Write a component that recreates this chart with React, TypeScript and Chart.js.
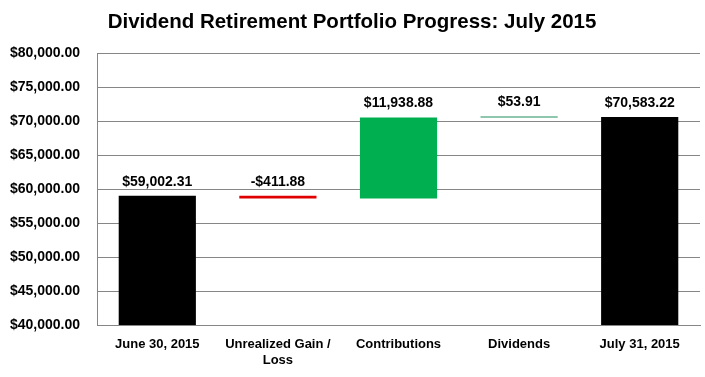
import React, { useEffect, useRef } from "react";
import { Chart, registerables } from "chart.js";

Chart.register(...registerables);

const categories: (string | string[])[] = [
  "June 30, 2015",
  ["Unrealized Gain /", "Loss"],
  "Contributions",
  "Dividends",
  "July 31, 2015",
];
const startValue = 59002.31;
const changes = [-411.88, 11938.88, 53.91];
const endValue = 70583.22;
const barColors = ["#000000", "#E00000", "#00B050", "#1E8F5E", "#000000"];
const titleText = "Dividend Retirement Portfolio Progress: July 2015";

const fmt = (v: number) => {
  const s = Math.abs(v).toLocaleString("en-US", { minimumFractionDigits: 2, maximumFractionDigits: 2 });
  return (v < 0 ? "-$" : "$") + s;
};

export default function App() {
  const ref = useRef<HTMLCanvasElement>(null);
  useEffect(() => {
    document.body.style.margin = "0";
    const ranges: [number, number][] = [];
    const labels: string[] = [];
    ranges.push([0, startValue]);
    labels.push(fmt(startValue));
    let run = startValue;
    for (const c of changes) {
      ranges.push([run, run + c]);
      labels.push(fmt(c));
      run += c;
    }
    ranges.push([0, endValue]);
    labels.push(fmt(endValue));

    const font = "'Liberation Sans', Arial, sans-serif";
    const chart = new Chart(ref.current!, {
      type: "bar",
      data: {
        labels: categories,
        datasets: [
          {
            data: ranges as any,
            backgroundColor: barColors,
            borderWidth: 0,
            barPercentage: 0.64,
            categoryPercentage: 1,
            minBarLength: 1,
            borderSkipped: false,
          },
        ],
      },
      options: {
        animation: false,
        responsive: false,
        layout: { padding: { top: 53, right: 5, left: 0, bottom: 0 } },
        plugins: {
          legend: { display: false },
          tooltip: { enabled: false },
          title: { display: false },
        },
        scales: {
          x: {
            grid: { display: false, drawTicks: false },
            border: { color: "#868686", width: 1 },
            ticks: { color: "#000", font: { family: font, weight: "bold", size: 13 }, padding: 12, maxRotation: 0, autoSkip: false },
            afterFit: (s: any) => { s.height = 52; },
          },
          y: {
            min: 40000,
            max: 80000,
            grid: { color: "#868686", lineWidth: 1, drawTicks: false },
            border: { color: "#868686", width: 1 },
            ticks: {
              stepSize: 5000,
              color: "#000",
              padding: 17,
              font: { family: font, weight: "bold", size: 14 },
              callback: (v: any) => fmt(Number(v)),
            },
            afterFit: (s: any) => { s.width = 97; },
          },
        },
      },
      plugins: [
        {
          id: "labelsAndTitle",
          afterDatasetsDraw(c: any) {
            const ctx = c.ctx;
            const meta = c.getDatasetMeta(0);
            ctx.save();
            ctx.fillStyle = "#000";
            ctx.font = `bold 14px ${font}`;
            ctx.textAlign = "center";
            ctx.textBaseline = "bottom";
            meta.data.forEach((el: any, i: number) => {
              const top = Math.min(el.y, el.base);
              ctx.fillText(labels[i], el.x, top - 7);
            });
            ctx.font = `bold 20.5px ${font}`;
            ctx.textBaseline = "middle";
            ctx.fillText(titleText, 352, 22);
            ctx.restore();
          },
        },
      ],
    });
    return () => chart.destroy();
  }, []);
  return (
    <div style={{ position: "absolute", left: 0, top: 0, width: 705, height: 377 }}>
      <canvas ref={ref} width={705} height={377} />
    </div>
  );
}
